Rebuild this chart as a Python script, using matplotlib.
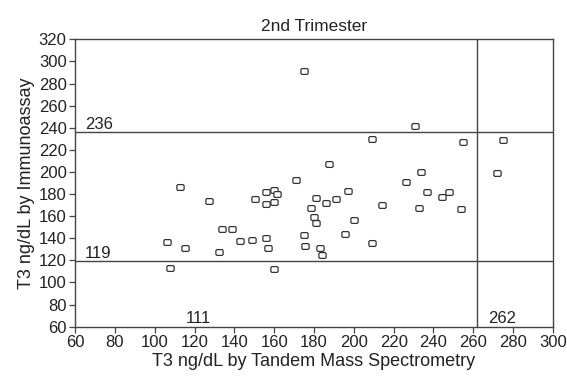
import matplotlib.pyplot as plt
from matplotlib.path import Path

plt.rcParams['font.family'] = ['Liberation Sans', 'DejaVu Sans']

# T3 by tandem mass spectrometry (x) vs immunoassay (y), ng/dL
ms_values = [106.0, 107.9, 112.7, 115.2, 127.4, 132.1, 134.0, 138.8, 143.0, 149.0,
             150.4, 155.7, 155.7, 155.9, 157.0, 159.9, 161.3, 160.0, 159.9, 170.8,
             175.1, 175.6, 178.6, 180.0, 181.0, 181.0, 183.0, 184.2, 186.0, 187.3,
             190.9, 195.7, 196.9, 199.9, 208.9, 214.0, 226.0, 232.7, 233.8, 236.7,
             244.1, 247.8, 253.8, 272.0, 175.0, 230.8, 208.9, 254.9, 275.0]
ia_values = [136.4, 112.8, 186.4, 131.0, 173.8, 127.3, 148.1, 148.1, 137.3, 138.2,
             175.6, 181.9, 171.0, 140.5, 131.0, 183.7, 180.4, 172.9, 111.9, 192.8,
             142.7, 132.8, 167.1, 159.0, 153.8, 176.2, 131.0, 124.6, 172.0, 207.2,
             175.3, 143.6, 182.8, 156.3, 135.5, 170.1, 191.0, 167.2, 200.0, 181.9,
             177.4, 181.9, 166.2, 199.1, 291.0, 241.6, 230.1, 227.2, 229.2]

# reference limits
ia_upper, ia_lower = 236, 119
ms_upper, ms_lower = 262, 111

# small rounded box marker, a bit wider than tall
w, h, r = 0.7, 0.56, 0.18
box = Path([(-w + r, -h), (w - r, -h), (w, -h + r), (w, h - r), (w - r, h),
            (-w + r, h), (-w, h - r), (-w, -h + r), (-w + r, -h)], closed=True)

fig = plt.figure(figsize=(5.67, 3.76), dpi=100)
ax = fig.add_axes([0.1323, 0.1311, 0.8430, 0.7644])

ax.plot(ms_values, ia_values, linestyle='none', marker=box, markersize=5.2,
        markerfacecolor='white', markeredgecolor='#333333', markeredgewidth=0.9)

line_kw = dict(color='#444444', linewidth=1.0)
ax.axhline(ia_upper, **line_kw)
ax.axhline(ia_lower, **line_kw)
ax.axvline(ms_upper, **line_kw)

txt_kw = dict(fontsize=12, color='#222222', va='bottom')
ax.text(65, ia_upper + 0.5, str(ia_upper), **txt_kw)
ax.text(65, ia_lower + 0.5, str(ia_lower), **txt_kw)
ax.text(122, 60.5, str(ms_lower), ha='center', **txt_kw)
ax.text(274.5, 60.5, str(ms_upper), ha='center', **txt_kw)

ax.set_xlim(60, 300)
ax.set_ylim(60, 320)
ax.set_xticks(range(60, 301, 20))
ax.set_yticks(range(60, 321, 20))
ax.tick_params(direction='out', length=4, width=0.9, color='#444444', pad=2,
               labelsize=12, labelcolor='#222222', top=False, right=False)
for spine in ax.spines.values():
    spine.set_color('#444444')
    spine.set_linewidth(1.0)

ax.set_title('2nd Trimester', fontsize=12.5, color='#222222', pad=6)
ax.set_xlabel('T3 ng/dL by Tandem Mass Spectrometry', fontsize=13, color='#222222', labelpad=2)
ax.set_ylabel('T3 ng/dL by Immunoassay', fontsize=13, color='#222222', labelpad=3)

fig.savefig('out.png', dpi=100)
